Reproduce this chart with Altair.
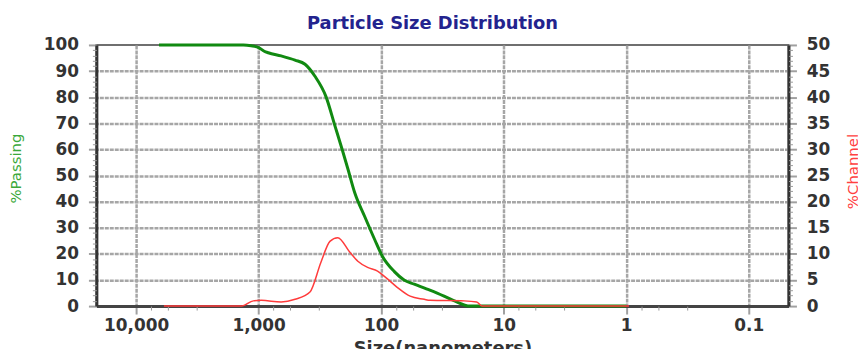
import altair as alt
import pandas as pd

# %Passing (green, left axis)
pass_size = [6500, 1330, 1150, 1000, 900, 834, 655, 505, 418, 347, 282, 239, 206, 187, 164, 136, 113, 97.5, 78, 65, 53.7, 43.7, 34.9, 25.8, 18.8, 1.0]
pass_val = [100, 100, 99.7, 99, 97.6, 97, 95.8, 94.2, 92.6, 88.0, 80.2, 69.2, 59.3, 52.6, 43.3, 34.2, 25.5, 19, 13.2, 10.0, 8.4, 6.8, 5.0, 2.2, 0, 0]

# %Channel (red, right axis)
chan_size = [5930, 1380, 1104, 950, 655, 504, 381, 310, 262, 226, 180, 155, 129, 107, 92, 74, 58, 44.5, 40, 21, 16.6, 15, 0.95]
chan_val = [0, 0, 1.0, 1.1, 0.8, 1.3, 2.7, 8.4, 12.4, 13.1, 10.3, 8.6, 7.4, 6.7, 5.5, 3.6, 1.9, 1.3, 1.1, 1.0, 0.8, 0, 0]

x_major = [10000, 1000, 100, 10, 1, 0.1]
x_minor = [d * f for d in [10000, 1000, 100, 10, 1] for f in (0.755, 0.55, 0.32)]
left_major = list(range(0, 101, 10))
left_minor = [v for v in range(0, 101, 2) if v % 10 != 0]
right_major = list(range(0, 51, 5))
right_minor = [v for v in range(0, 51, 1) if v % 5 != 0]

df_pass = pd.DataFrame({"size": pass_size, "passing": pass_val})
df_chan = pd.DataFrame({"size": chan_size, "channel": chan_val})

FONT = "DejaVu Sans"
LBL = "#333333"
xscale = alt.Scale(type="log", domain=[0.0474, 21090], reverse=True, nice=False)
lscale = alt.Scale(domain=[0, 100], nice=False, zero=True)
rscale = alt.Scale(domain=[0, 50], nice=False, zero=True)

green = alt.Chart(df_pass).mark_line(color="#118a11", strokeWidth=3, interpolate="monotone").encode(
    x=alt.X("size:Q", scale=xscale, axis=alt.Axis(
        orient="bottom", values=x_major, title="Size(nanometers)",
        labelExpr="datum.value >= 1 ? format(datum.value, ',.0f') : format(datum.value, '.1f')",
        labelFont=FONT, labelFontSize=17, labelFontWeight="bold", labelColor=LBL,
        labelPadding=4, tickSize=8, tickWidth=2, tickColor="#a0a0a0",
        domainColor="#444", domainWidth=3,
        grid=True, gridColor="#a6a6a6", gridWidth=2.5, gridDash=[4, 1],
        titleFont=FONT, titleFontSize=18, titleFontWeight="bold", titleColor=LBL,
        titleBaseline="alphabetic", titleY=48, zindex=0)),
    y=alt.Y("passing:Q", scale=lscale, axis=alt.Axis(
        orient="left", values=left_major, title="%Passing",
        labelFont=FONT, labelFontSize=17, labelFontWeight="bold", labelColor=LBL,
        labelPadding=10, tickSize=8, tickWidth=2, tickColor="#a0a0a0",
        domainColor="#333", domainWidth=3,
        grid=True, gridColor="#a6a6a6", gridWidth=2.5, gridDash=[4, 1],
        gridOpacity=alt.condition("datum.value == 0 || datum.value == 100", alt.value(0), alt.value(1)),
        titleFont=FONT, titleFontSize=15, titleFontWeight="normal", titleColor="#3aa83a",
        titleAngle=270, titleAlign="center", titleBaseline="middle", titleX=-81, titleY=124,
        zindex=0)),
)

red = alt.Chart(df_chan).mark_line(color="#ff3b3b", strokeWidth=1.5, interpolate="monotone").encode(
    x=alt.X("size:Q", scale=xscale, axis=None),
    y=alt.Y("channel:Q", scale=rscale, axis=alt.Axis(
        orient="right", values=right_major, title="%Channel",
        labelFont=FONT, labelFontSize=17, labelFontWeight="bold", labelColor=LBL,
        labelPadding=10, tickSize=8, tickWidth=2, tickColor="#a0a0a0",
        domainColor="#333", domainWidth=3, grid=False,
        titleFont=FONT, titleFontSize=15, titleFontWeight="normal", titleColor="#ff4040",
        titleAngle=270, titleAlign="center", titleBaseline="middle", titleX=65, titleY=127,
        zindex=0)),
)

minor_l = alt.Chart(df_pass).mark_line(opacity=0).encode(
    x=alt.X("size:Q", scale=xscale, axis=alt.Axis(
        orient="bottom", values=x_minor, labels=False, domain=False, grid=False,
        tickSize=4, tickWidth=1, tickColor="#999", title=None)),
    y=alt.Y("passing:Q", scale=lscale, axis=alt.Axis(
        orient="left", values=left_minor, labels=False, domain=False, grid=False,
        tickSize=4, tickWidth=1, tickColor="#999", title=None)),
)

minor_r = alt.Chart(df_chan).mark_line(opacity=0).encode(
    x=alt.X("size:Q", scale=xscale, axis=None),
    y=alt.Y("channel:Q", scale=rscale, axis=alt.Axis(
        orient="right", values=right_minor, labels=False, domain=False, grid=False,
        tickSize=4, tickWidth=1, tickColor="#999", title=None)),
)

chart = alt.layer(green, red, minor_l, minor_r).resolve_scale(
    y="independent"
).resolve_axis(
    x="independent", y="independent"
).properties(
    width=697, height=263,
    autosize=alt.AutoSizeParams(type="none"),
    padding={"left": 89, "top": 36, "right": 70, "bottom": 42},
    title=alt.TitleParams("Particle Size Distribution", font=FONT, fontSize=18, fontWeight="bold",
                          color="#23238e", anchor="middle", dx=-10, dy=26, offset=15, frame="group",
                          baseline="alphabetic"),
    background="white",
).configure_view(stroke="#6f6f6f", strokeWidth=2)

chart.save("out.html", embed_options={"renderer": "svg", "actions": False})
